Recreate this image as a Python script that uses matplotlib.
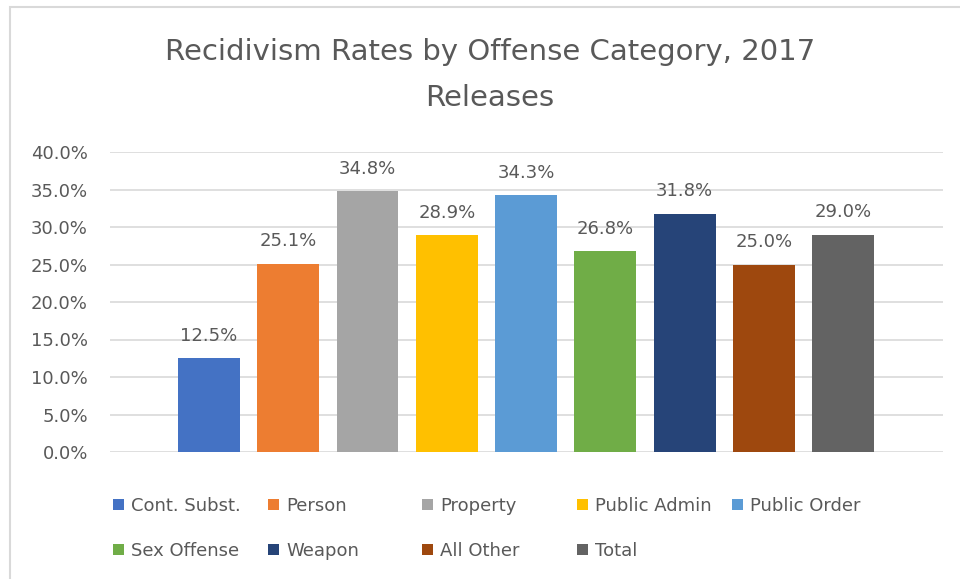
"""Recidivism rates by offense category, 2017 releases."""

import matplotlib

matplotlib.use("Agg")
import matplotlib.pyplot as plt
from matplotlib.patches import Rectangle
from matplotlib.ticker import FuncFormatter

categories = [
    "Cont. Subst.",
    "Person",
    "Property",
    "Public Admin",
    "Public Order",
    "Sex Offense",
    "Weapon",
    "All Other",
    "Total",
]
rates = [12.5, 25.1, 34.8, 28.9, 34.3, 26.8, 31.8, 25.0, 29.0]
colors = [
    "#4472C4",
    "#ED7D31",
    "#A5A5A5",
    "#FFC000",
    "#5B9BD5",
    "#70AD47",
    "#264478",
    "#9E480E",
    "#636363",
]
yticks = [0, 5, 10, 15, 20, 25, 30, 35, 40]

TEXT = "#595959"
plt.rcParams["font.family"] = ["DejaVu Sans"]

fig = plt.figure(figsize=(9.6, 5.79), dpi=100)
ax = fig.add_axes([110 / 960, 1 - 452 / 579, 833 / 960, 300 / 579])

# light chart border like the Excel chart area
fig.patches.append(
    Rectangle((10 / 960, -0.1), 1.2, 1 - 7 / 579 + 0.1, transform=fig.transFigure,
              fill=False, edgecolor="#D9D9D9", linewidth=1.5)
)

handles = []
for i, (name, val, col) in enumerate(zip(categories, rates, colors)):
    b = ax.bar(i, val, width=0.78, color=col, label=name, zorder=3)
    handles.append(b)
    ax.text(i, val + 2.3, f"{val:.1f}%", ha="center", va="baseline",
            fontsize=13, color=TEXT)

ax.set_xlim(-1.25, 9.26)
ax.set_ylim(0, 40)
ax.set_yticks(yticks)
ax.yaxis.set_major_formatter(FuncFormatter(lambda v, _: f"{v:.1f}%"))
ax.tick_params(axis="y", length=0, pad=16, labelsize=13, labelcolor=TEXT)
ax.set_xticks([])
ax.grid(axis="y", color="#D9D9D9", linewidth=1.2, zorder=0)
for s in ax.spines.values():
    s.set_visible(False)

fig.text(490 / 960, 1 - 52 / 579, "Recidivism Rates by Offense Category, 2017",
         ha="center", va="center", fontsize=21, color=TEXT)
fig.text(490 / 960, 1 - 98 / 579, "Releases",
         ha="center", va="center", fontsize=21, color=TEXT)

# Excel lays the legend out in fixed-ish columns; one small legend per column
col_x = [113, 268, 422, 577, 732]
for c, x in enumerate(col_x):
    idx = [k for k in (c, c + 5) if k < len(categories)]
    fig.legend([handles[k] for k in idx], [categories[k] for k in idx],
               loc="upper left", bbox_to_anchor=(x / 960, 1 - 497 / 579),
               frameon=False, fontsize=13, labelcolor=TEXT, handlelength=0.6,
               handleheight=0.6, handletextpad=0.4, labelspacing=1.5,
               borderpad=0, borderaxespad=0)

fig.savefig("out.png", dpi=100)
